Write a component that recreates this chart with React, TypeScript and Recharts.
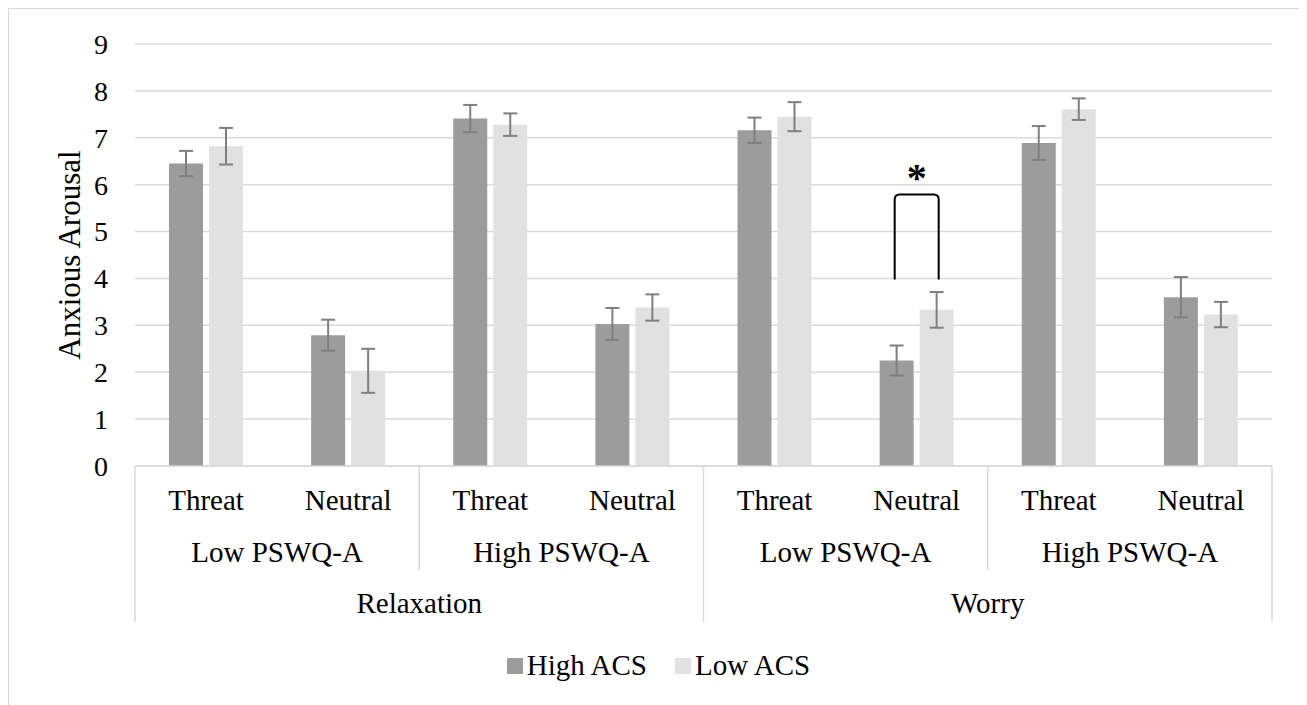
import { Bar, BarChart, CartesianGrid, ErrorBar, Legend, ReferenceLine, XAxis, YAxis } from "recharts"

const FONT = "'Liberation Serif', 'Times New Roman', serif"

const conditions = ["Relaxation", "Relaxation", "Relaxation", "Relaxation", "Worry", "Worry", "Worry", "Worry"]
const worryGroups = ["Low PSWQ-A", "Low PSWQ-A", "High PSWQ-A", "High PSWQ-A", "Low PSWQ-A", "Low PSWQ-A", "High PSWQ-A", "High PSWQ-A"]
const stimuli = ["Threat", "Neutral", "Threat", "Neutral", "Threat", "Neutral", "Threat", "Neutral"]

const highACS = [6.45, 2.79, 7.41, 3.03, 7.16, 2.25, 6.89, 3.6]
const highACSErr = [0.27, 0.33, 0.29, 0.34, 0.27, 0.32, 0.36, 0.43]
const lowACS = [6.82, 2.03, 7.28, 3.38, 7.45, 3.33, 7.61, 3.23]
const lowACSErr = [0.39, 0.47, 0.24, 0.28, 0.31, 0.38, 0.23, 0.27]

const yTicks = [0, 1, 2, 3, 4, 5, 6, 7, 8, 9]

// significant difference marker: Worry / Low PSWQ-A / Neutral
const sigIndex = 5
const sigFrom = 3.98
const sigTo = 5.79

const data = stimuli.map((s, i) => ({
  key: `${conditions[i]}|${worryGroups[i]}|${s}`,
  high: highACS[i],
  highErr: highACSErr[i],
  low: lowACS[i],
  lowErr: lowACSErr[i],
}))

const W = 1290
const H = 700
const M = { top: 35, right: 27, left: 0, bottom: 0 }
const Y_W = 126
const BAND = (W - M.right - Y_W) / stimuli.length
const GRID = "#d9d9d9"
const FS = 29

function CategoryTick(props: any) {
  const { x, y, payload } = props
  const i = payload.index
  const half = BAND / 2
  return (
    <g fontFamily={FONT} fontSize={FS} fill="#000">
      <text x={x} y={y + 44} textAnchor="middle">
        {stimuli[i]}
      </text>
      {i % 2 === 0 && (
        <>
          <text x={x + half} y={y + 96} textAnchor="middle">
            {worryGroups[i]}
          </text>
          <line x1={x - half} x2={x - half} y1={y} y2={y + (i % 4 === 0 ? 156 : 104)} stroke={GRID} strokeWidth={1.5} />
        </>
      )}
      {i % 4 === 0 && (
        <text x={x + half * 3} y={y + 147} textAnchor="middle">
          {conditions[i]}
        </text>
      )}
      {i === stimuli.length - 1 && (
        <line x1={x + half} x2={x + half} y1={y} y2={y + 156} stroke={GRID} strokeWidth={1.5} />
      )}
    </g>
  )
}

function YTitle(props: any) {
  const vb = props.viewBox || {}
  const cx = 60
  const cy = vb.y + vb.height / 2
  return (
    <text
      x={cx}
      y={cy}
      transform={`rotate(-90 ${cx} ${cy})`}
      textAnchor="middle"
      dominantBaseline="central"
      fontFamily={FONT}
      fontSize={31}
      fill="#000"
    >
      Anxious Arousal
    </text>
  )
}

function Bracket(props: any) {
  const { x1, y1, y2 } = props
  const l = x1 - 22
  const r = x1 + 22
  const top = Math.min(y1, y2)
  const bottom = Math.max(y1, y2)
  const c = 5
  return (
    <g>
      <path
        d={`M${l},${bottom} L${l},${top + c} Q${l},${top} ${l + c},${top} L${r - c},${top} Q${r},${top} ${r},${top + c} L${r},${bottom}`}
        fill="none"
        stroke="#000"
        strokeWidth={2}
      />
      <text x={x1} y={top - 4} textAnchor="middle" fontFamily={FONT} fontSize={40} fontWeight="bold" fill="#000">
        *
      </text>
    </g>
  )
}

function LegendBox() {
  const items = [
    { name: "High ACS", color: "#9c9c9c" },
    { name: "Low ACS", color: "#e1e1e1" },
  ]
  return (
    <div
      style={{
        display: "flex",
        justifyContent: "center",
        paddingLeft: 36,
        paddingTop: 10,
        gap: 28,
        fontFamily: FONT,
        fontSize: FS,
        color: "#000",
      }}
    >
      {items.map((it) => (
        <div key={it.name} style={{ display: "flex", alignItems: "center", gap: 4 }}>
          <span style={{ width: 16, height: 16, background: it.color, display: "inline-block" }} />
          <span>{it.name}</span>
        </div>
      ))}
    </div>
  )
}

export default function App() {
  return (
    <div style={{ width: W, height: H, border: `1px solid ${GRID}`, background: "#fff" }}>
      <BarChart width={W} height={H} data={data} margin={M} barSize={34} barGap={6}>
        <CartesianGrid vertical={false} stroke={GRID} strokeWidth={1.5} />
        <XAxis
          dataKey="key"
          interval={0}
          height={173}
          tickSize={0}
          tickMargin={0}
          tickLine={false}
          axisLine={{ stroke: GRID, strokeWidth: 1.5 }}
          tick={<CategoryTick />}
        />
        <YAxis
          domain={[0, 9]}
          ticks={yTicks}
          interval={0}
          width={Y_W}
          axisLine={false}
          tickLine={false}
          tickMargin={21}
          tick={{ fill: "#000", fontSize: 28, fontFamily: FONT }}
          label={<YTitle />}
        />
        <Legend verticalAlign="bottom" height={70} content={() => <LegendBox />} />
        <Bar dataKey="high" name="High ACS" fill="#9c9c9c" isAnimationActive={false}>
          <ErrorBar dataKey="highErr" width={7} stroke="#7f7f7f" strokeWidth={2} />
        </Bar>
        <Bar dataKey="low" name="Low ACS" fill="#e1e1e1" isAnimationActive={false}>
          <ErrorBar dataKey="lowErr" width={7} stroke="#7f7f7f" strokeWidth={2} />
        </Bar>
        <ReferenceLine
          segment={[
            { x: data[sigIndex].key, y: sigFrom },
            { x: data[sigIndex].key, y: sigTo },
          ]}
          shape={<Bracket />}
        />
      </BarChart>
    </div>
  )
}
